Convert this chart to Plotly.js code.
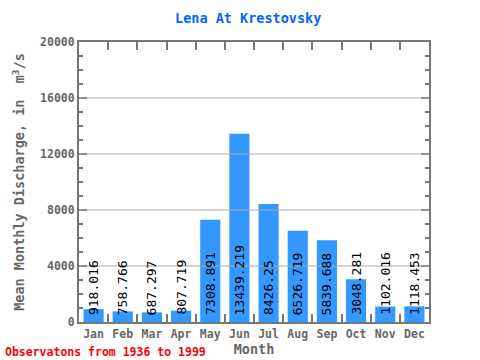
<!DOCTYPE html>
<html>
<head>
<meta charset="utf-8">
<script src="https://cdn.plot.ly/plotly-3.0.1.min.js"></script>
<style>html,body{margin:0;padding:0;background:#fff;}#chart{width:480px;height:360px;}</style>
</head>
<body>
<div id="chart"></div>
<script>
var months = ["Jan","Feb","Mar","Apr","May","Jun","Jul","Aug","Sep","Oct","Nov","Dec"];
var discharge = [918.016, 758.766, 687.297, 807.719, 7308.891, 13439.219, 8426.25, 6526.719, 5839.688, 3048.281, 1102.016, 1118.453];
var labels = ["918.016","758.766","687.297","807.719","7308.891","13439.219","8426.25","6526.719","5839.688","3048.281","1102.016","1118.453"];
var yTicks = [0, 4000, 8000, 12000, 16000, 20000];

var mono = "DejaVu Sans Mono, monospace";
var axisGray = "#777777";

var annotations = months.map(function(m, i) {
  return {
    x: m, y: 0, xref: "x", yref: "y",
    text: labels[i], showarrow: false, textangle: -90,
    xanchor: "center", yanchor: "bottom", yshift: 5,
    font: {family: mono, size: 13, color: "#000"}
  };
});
annotations.push({
  xref: "paper", yref: "paper", x: -0.217, y: -0.107, xanchor: "left", yanchor: "middle",
  text: "<b>Observatons from 1936 to 1999</b>", showarrow: false,
  font: {family: mono, size: 11.5, color: "#ff0000"}
});

var shapes = yTicks.filter(function(v){ return v > 0 && v < 20000; }).map(function(v) {
  return {type: "line", xref: "paper", yref: "y", x0: 0, x1: 1, y0: v, y1: v,
          line: {color: "#aaaaaa", width: 1}, layer: "above"};
});

var data = [{
  type: "bar", x: months, y: discharge,
  marker: {color: "#3399ff"},
  hoverinfo: "x+y"
}];

var yCommon = {
  range: [0, 20000],
  tickvals: yTicks,
  ticks: "inside", ticklen: 8, tickwidth: 2, tickcolor: axisGray,
  minor: {dtick: 1000, ticks: "inside", ticklen: 4, tickwidth: 2, tickcolor: axisGray, showgrid: false},
  showgrid: false, zeroline: false, automargin: false
};

var layout = {
  width: 480, height: 360,
  margin: {l: 79, r: 51, t: 42, b: 38},
  paper_bgcolor: "#ffffff", plot_bgcolor: "#ffffff",
  bargap: 0.31,
  showlegend: false,
  title: {
    text: "<b>Lena At Krestovsky</b>",
    x: 0.517, xref: "container", y: 0.95, yref: "container", yanchor: "middle",
    font: {family: mono, size: 13.5, color: "#0066ff"}
  },
  xaxis: {
    type: "category", tickangle: 0, automargin: false,
    showline: true, linecolor: axisGray, linewidth: 2, mirror: "ticks",
    ticks: "inside", tickson: "boundaries", ticklen: 8, tickwidth: 2, tickcolor: axisGray,
    showgrid: false, zeroline: false,
    tickfont: {family: mono, size: 11.5, color: "#666666", weight: "bold"},
    title: {text: "<b>Month</b>", standoff: 3, font: {family: mono, size: 13.5, color: "#666666"}}
  },
  yaxis: Object.assign({}, yCommon, {
    ticktext: yTicks.map(String),
    showline: true, linecolor: axisGray, linewidth: 2, mirror: "ticks",
    tickfont: {family: mono, size: 11.5, color: "#666666", weight: "bold"},
    title: {text: "<b>Mean Monthly Discharge, in  m<sup>3</sup>/s</b>", standoff: 12, font: {family: mono, size: 13.5, color: "#666666"}}
  }),
  yaxis2: Object.assign({}, yCommon, {
    overlaying: "y", side: "right", showticklabels: false, showline: false
  }),
  annotations: annotations,
  shapes: shapes
};

Plotly.newPlot("chart", data, layout, {displayModeBar: false, staticPlot: true});
</script>
</body>
</html>
